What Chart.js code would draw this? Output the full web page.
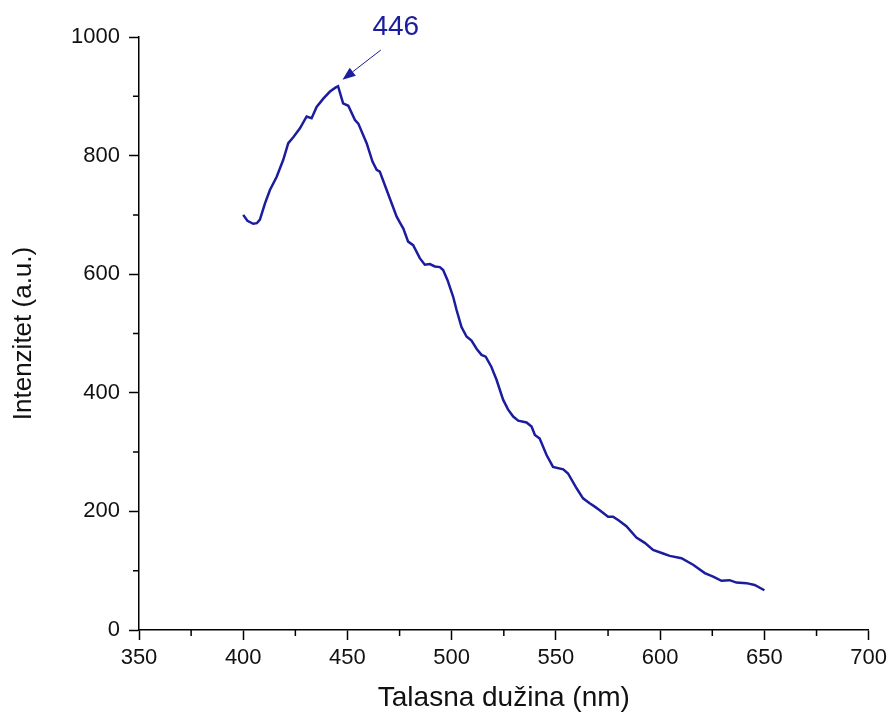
<!DOCTYPE html>
<html>
<head>
<meta charset="utf-8">
<script src="https://cdn.jsdelivr.net/npm/chart.js@4/dist/chart.umd.min.js"></script>
<style>
  html, body { margin: 0; padding: 0; background: #fff; }
  #wrap { width: 892px; height: 715px; }
</style>
</head>
<body>
<div id="wrap"><canvas id="chart" width="892" height="715"></canvas></div>
<script>
// emission spectrum
const wavelength = [
  400, 402, 404.8, 406.5, 408, 410.4, 412.8, 416, 419.2, 421.6,
  424, 427.2, 430.4, 432.8, 435.2, 438.4, 441.6, 444.4, 445.5, 446.5,
  447.9, 450.4, 453.6, 455.2, 459.2, 462, 464, 465.5, 468.8, 473.6,
  475.5, 476.8, 479.1, 481.5, 484.7, 487.1, 489.5, 491.9, 494.3, 495.9,
  498, 500.7, 502.3, 504.7, 507.1, 509.5, 512, 514.3, 516.3, 519,
  521.5, 524.7, 527, 529.5, 531.9, 535.9, 538.3, 539.9, 542.2, 545.5,
  548.6, 553.5, 555.8, 559.9, 563, 566, 568.6, 571, 575, 577.4,
  580, 583.8, 588.6, 592.6, 596.6, 601.4, 604.6, 610.2, 615.8, 621.4,
  625.4, 629.4, 633.3, 636.6, 641.4, 645.3, 650
];
const intensity = [
  700, 690, 685, 686, 692, 719, 742, 764, 793, 821,
  831, 846, 866, 863, 882, 896, 908, 915, 917, 905,
  888, 884, 860, 854, 821, 790, 776, 773, 742, 697,
  685, 677, 655, 649, 627, 616, 617, 613, 612, 607,
  590, 562, 540, 511, 495, 488, 474, 464, 461, 444,
  422, 388, 372, 360, 353, 350, 343, 329, 323, 295,
  275, 271, 264, 239, 222, 214, 208, 202, 191, 191,
  185, 175, 156, 147, 135, 129, 125, 121, 110, 96,
  90, 83, 84, 80, 79, 76, 67
];

const xTicksMajor = 50;
const yTicksMajor = 200;

// peak label
const peakLabel = '446';
const peakText = { x: 473.2, y: 1017 };
const arrowFrom = { x: 466, y: 978 };
const arrowTo = { x: 447.6, y: 928 };

const blue = '#1c1c9e';
const font = 'Liberation Sans, Arial, sans-serif';

const minorTicks = {
  id: 'minorTicks',
  afterDraw(chart) {
    const ctx = chart.ctx;
    const { x, y } = chart.scales;
    ctx.save();
    ctx.strokeStyle = '#000';
    ctx.lineWidth = 1.5;
    ctx.beginPath();
    x.ticks.forEach((t) => {
      if (t.value % xTicksMajor === 0) return;
      const px = x.getPixelForValue(t.value);
      ctx.moveTo(px, y.bottom);
      ctx.lineTo(px, y.bottom + 6);
    });
    y.ticks.forEach((t) => {
      if (t.value % yTicksMajor === 0) return;
      const py = y.getPixelForValue(t.value);
      ctx.moveTo(x.left, py);
      ctx.lineTo(x.left - 6, py);
    });
    ctx.stroke();
    ctx.restore();
  },
};

const peakNote = {
  id: 'peakNote',
  afterDraw(chart) {
    const ctx = chart.ctx;
    const { x, y } = chart.scales;
    const x1 = x.getPixelForValue(arrowFrom.x), y1 = y.getPixelForValue(arrowFrom.y);
    const x2 = x.getPixelForValue(arrowTo.x), y2 = y.getPixelForValue(arrowTo.y);
    const ang = Math.atan2(y2 - y1, x2 - x1);
    const head = 13, half = 5;
    ctx.save();
    ctx.strokeStyle = blue;
    ctx.fillStyle = blue;
    ctx.lineWidth = 1;
    ctx.beginPath();
    ctx.moveTo(x1, y1);
    ctx.lineTo(x2 - head * Math.cos(ang), y2 - head * Math.sin(ang));
    ctx.stroke();
    ctx.beginPath();
    ctx.moveTo(x2, y2);
    const bx = x2 - head * Math.cos(ang), by = y2 - head * Math.sin(ang);
    ctx.lineTo(bx + half * Math.sin(ang), by - half * Math.cos(ang));
    ctx.lineTo(bx - half * Math.sin(ang), by + half * Math.cos(ang));
    ctx.closePath();
    ctx.fill();
    ctx.font = '28px ' + font;
    ctx.textAlign = 'center';
    ctx.textBaseline = 'middle';
    ctx.fillText(peakLabel, x.getPixelForValue(peakText.x), y.getPixelForValue(peakText.y));
    ctx.restore();
  },
};

new Chart(document.getElementById('chart'), {
  type: 'line',
  data: {
    datasets: [{
      data: wavelength.map((w, i) => ({ x: w, y: intensity[i] })),
      borderColor: blue,
      borderWidth: 2.5,
      pointRadius: 0,
      tension: 0,
      fill: false,
    }],
  },
  options: {
    responsive: false,
    animation: false,
    layout: { padding: { top: 37, right: 23, left: 0, bottom: 0 } },
    plugins: { legend: { display: false }, tooltip: { enabled: false } },
    scales: {
      x: {
        type: 'linear',
        min: 350,
        max: 700,
        afterFit: (s) => { s.height = 85; },
        border: { color: '#000', width: 1.5 },
        grid: {
          drawOnChartArea: false,
          tickLength: 10,
          tickWidth: 1.5,
          tickColor: (c) => (c.tick && c.tick.value % xTicksMajor === 0 ? '#000' : 'rgba(0,0,0,0)'),
        },
        ticks: {
          stepSize: 25,
          autoSkip: false,
          maxRotation: 0,
          padding: 5,
          color: '#111',
          font: { family: font, size: 22 },
          callback: (v) => (v % xTicksMajor === 0 ? v : ''),
        },
        title: {
          display: true,
          text: 'Talasna dužina (nm)',
          color: '#111',
          font: { family: font, size: 28 },
          padding: { top: 0, bottom: 0 },
        },
      },
      y: {
        min: 0,
        max: 1000,
        afterFit: (s) => { s.width = 139; },
        border: { color: '#000', width: 1.5 },
        grid: {
          drawOnChartArea: false,
          tickLength: 10,
          tickWidth: 1.5,
          tickColor: (c) => (c.tick && c.tick.value % yTicksMajor === 0 ? '#000' : 'rgba(0,0,0,0)'),
        },
        ticks: {
          stepSize: 100,
          autoSkip: false,
          padding: 9,
          color: '#111',
          font: { family: font, size: 22 },
          callback: (v) => (v % yTicksMajor === 0 ? v : ''),
        },
        title: {
          display: true,
          text: 'Intenzitet (a.u.)',
          color: '#111',
          font: { family: font, size: 26 },
          padding: { top: 8, bottom: 0 },
        },
      },
    },
  },
  plugins: [minorTicks, peakNote],
});
</script>
</body>
</html>
